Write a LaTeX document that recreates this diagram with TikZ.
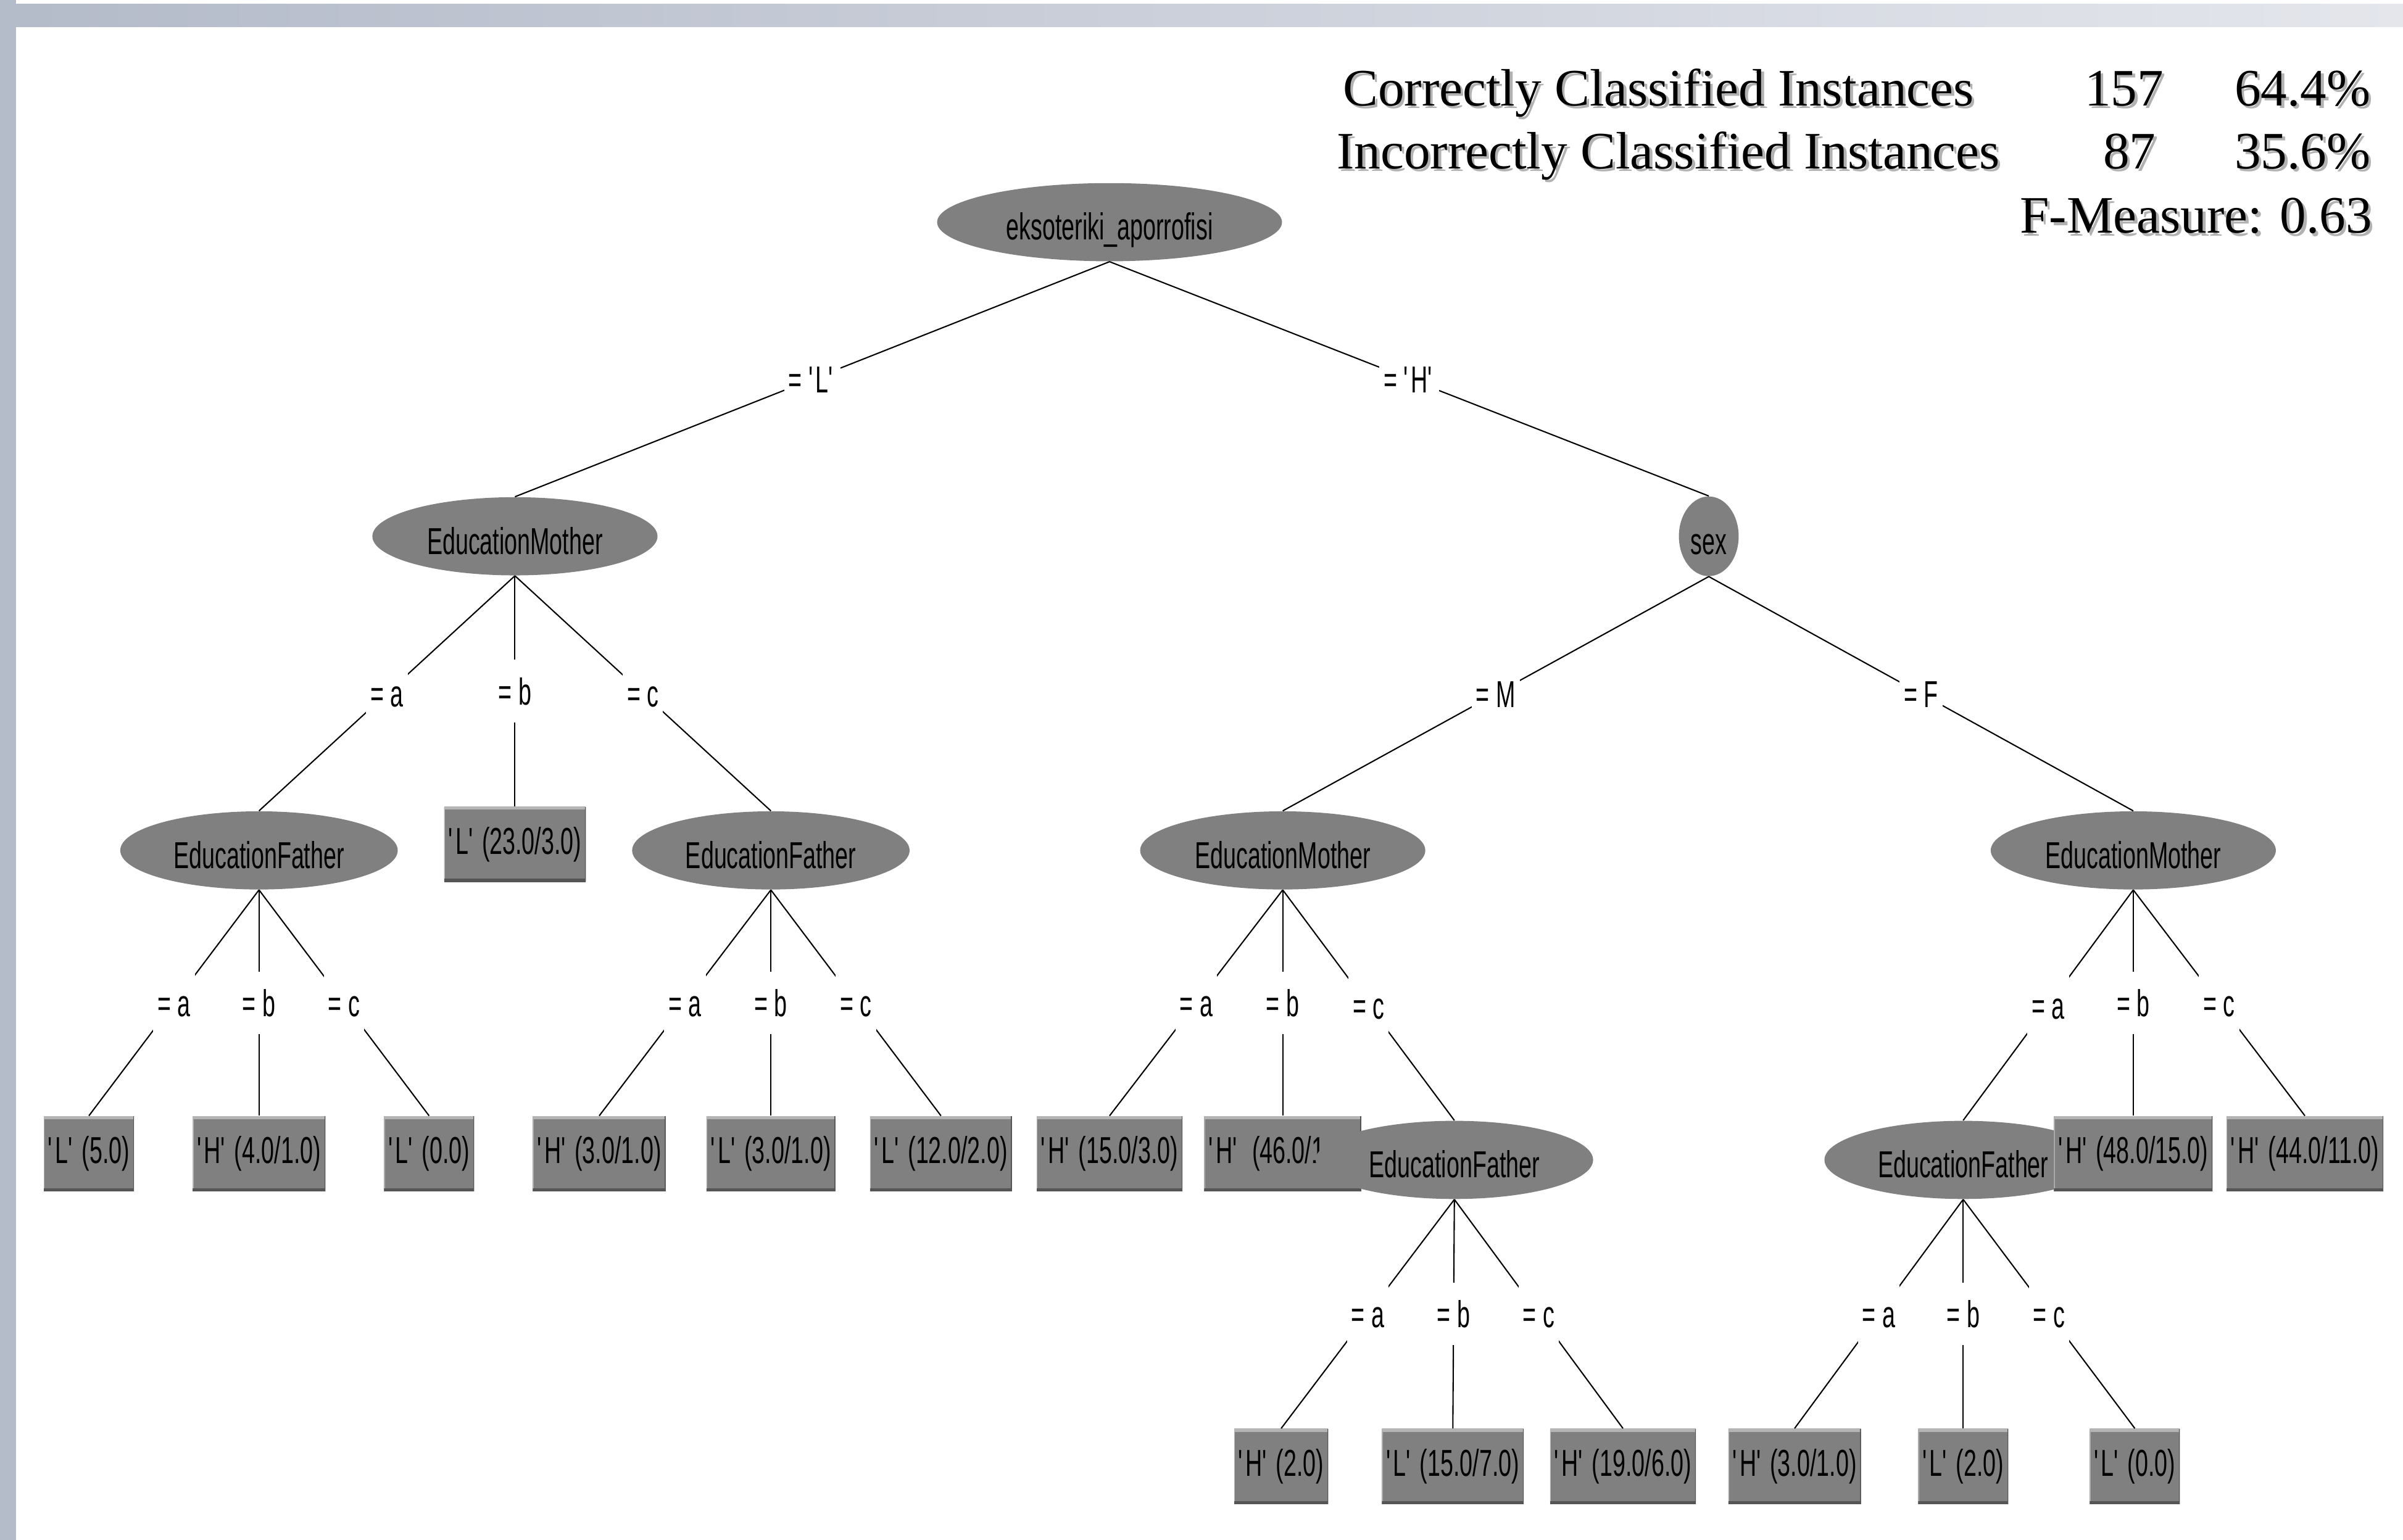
\documentclass[tikz,border=0pt]{standalone}
\usepackage{fontspec}
\setmainfont{Liberation Serif}
\newfontfamily\weka[FakeStretch=0.62]{Liberation Sans}
\usetikzlibrary{shapes.geometric}

\definecolor{wgris}{HTML}{808080}
\definecolor{wclaro}{HTML}{B4B4B4}
\definecolor{woscuro}{HTML}{555555}
\definecolor{barra}{HTML}{B4BBC9}
\definecolor{barrafin}{HTML}{E4E6EC}

\newcommand{\cls}[1]{\textquotesingle#1\textquotesingle}
\newcommand{\sombra}[1]{\makebox[0pt][l]{\hspace{1.3pt}\raisebox{-1.3pt}{\color{black!30}#1}}#1}

\begin{document}
\begin{tikzpicture}[x=0.025cm, y=-0.025cm,
    wfont/.style={font=\weka\fontsize{17.4}{20}\selectfont},
    nodo/.style={wfont, ellipse, fill=wgris, inner sep=0pt, minimum height=1.275cm, text height=16.5pt, text depth=0pt},
    hoja/.style={wfont, rectangle, fill=wgris, inner xsep=2pt, inner ysep=0pt, minimum height=1.225cm,
        path picture={
            \draw[wclaro, line width=2.8pt] (path picture bounding box.north west) -- (path picture bounding box.north east);
            \draw[wclaro, line width=0.8pt] (path picture bounding box.north west) -- (path picture bounding box.south west);
            \draw[woscuro, line width=2.8pt] (path picture bounding box.south west) -- (path picture bounding box.south east);
            \draw[woscuro, line width=0.8pt] (path picture bounding box.north east) -- (path picture bounding box.south east);
        }},
    rama/.style={black, line width=0.6pt},
    etiq/.style={wfont, fill=white, inner xsep=2pt, inner ysep=8.2pt, text height=12.7pt, text depth=0pt},
    resumen/.style={font=\fontsize{24.4}{28}\selectfont, inner sep=0pt}]

    \useasboundingbox (0,0) rectangle (1568,1005);

    % Marco
    \fill[barra] (0,0) rectangle (10.5,1005);
    \shade[left color=barra, right color=barrafin] (10.5,2.8) rectangle (1568,17.6);

    % Resultados
    \node[resumen, anchor=base west] (cc) at (876,69) {\sombra{Correctly Classified Instances}};
    \node[resumen, anchor=base west] (ic) at (872,110) {\sombra{Incorrectly Classified Instances}};
    \node[resumen, anchor=base east] (ccn) at (1412,69) {\sombra{157}};
    \node[resumen, anchor=base east] (icn) at (1407,110) {\sombra{87}};
    \node[resumen, anchor=base east] (ccp) at (1547,69) {\sombra{64.4\%}};
    \node[resumen, anchor=base east] (icp) at (1547,110) {\sombra{35.6\%}};
    \node[resumen, anchor=base east] (fm) at (1548,152) {\sombra{F-Measure: 0.63}};

    % Nodos
    \node[nodo, minimum width=5.625cm] (root) at (724,145) {eksoteriki\_aporrofisi};
    \node[nodo, minimum width=4.65cm] (em1) at (336,350) {EducationMother};
    \node[nodo, minimum width=0.975cm, minimum height=1.3cm] (sex) at (1115,350) {sex};
    \node[nodo, minimum width=4.525cm] (ef1) at (169,555) {EducationFather};
    \node[hoja] (l23) at (336,551) {\cls{L} (23.0/3.0)};
    \node[nodo, minimum width=4.525cm] (ef2) at (503,555) {EducationFather};
    \node[nodo, minimum width=4.65cm] (em2) at (837,555) {EducationMother};
    \node[nodo, minimum width=4.65cm] (em3) at (1392,555) {EducationMother};

    % Hojas (nivel 3)
    \node[hoja] (l5) at (58,753) {\cls{L} (5.0)};
    \node[hoja] (h4) at (169,753) {\cls{H} (4.0/1.0)};
    \node[hoja] (l0a) at (280,753) {\cls{L} (0.0)};
    \node[hoja] (h3a) at (391,753) {\cls{H} (3.0/1.0)};
    \node[hoja] (l3) at (503,753) {\cls{L} (3.0/1.0)};
    \node[hoja] (l12) at (614,753) {\cls{L} (12.0/2.0)};
    \node[hoja] (h15) at (724,753) {\cls{H} (15.0/3.0)};
    \node[hoja, text width=2.42cm, align=left] (h46) at (837,753) {\cls{H} (46.0/1};
    \node[nodo, minimum width=4.525cm] (ef3) at (949,757) {EducationFather};
    \node[nodo, minimum width=4.525cm] (ef4) at (1281,757) {EducationFather};
    \node[hoja] (h48) at (1392,753) {\cls{H} (48.0/15.0)};
    \node[hoja] (h44) at (1504,753) {\cls{H} (44.0/11.0)};

    % Hojas (nivel 4)
    \node[hoja] (h2) at (836,957) {\cls{H} (2.0)};
    \node[hoja] (l15) at (948,957) {\cls{L} (15.0/7.0)};
    \node[hoja] (h19) at (1059,957) {\cls{H} (19.0/6.0)};
    \node[hoja] (h3b) at (1171,957) {\cls{H} (3.0/1.0)};
    \node[hoja] (l2) at (1281,957) {\cls{L} (2.0)};
    \node[hoja] (l0b) at (1393,957) {\cls{L} (0.0)};

    % Ramas
    \draw[rama] (root.south) -- node[etiq]{= \cls{L}} (em1.north);
    \draw[rama] (root.south) -- node[etiq]{= \cls{H}} (sex.north);

    \draw[rama] (em1.south) -- node[etiq]{= a} (ef1.north);
    \draw[rama] (em1.south) -- node[etiq]{= b} (l23.north);
    \draw[rama] (em1.south) -- node[etiq]{= c} (ef2.north);

    \draw[rama] (sex.south) -- node[etiq]{= M} (em2.north);
    \draw[rama] (sex.south) -- node[etiq]{= F} (em3.north);

    \draw[rama] (ef1.south) -- node[etiq]{= a} (l5.north);
    \draw[rama] (ef1.south) -- node[etiq]{= b} (h4.north);
    \draw[rama] (ef1.south) -- node[etiq]{= c} (l0a.north);

    \draw[rama] (ef2.south) -- node[etiq]{= a} (h3a.north);
    \draw[rama] (ef2.south) -- node[etiq]{= b} (l3.north);
    \draw[rama] (ef2.south) -- node[etiq]{= c} (l12.north);

    \draw[rama] (em2.south) -- node[etiq]{= a} (h15.north);
    \draw[rama] (em2.south) -- node[etiq]{= b} (h46.north);
    \draw[rama] (em2.south) -- node[etiq]{= c} (ef3.north);

    \draw[rama] (em3.south) -- node[etiq]{= a} (ef4.north);
    \draw[rama] (em3.south) -- node[etiq]{= b} (h48.north);
    \draw[rama] (em3.south) -- node[etiq]{= c} (h44.north);

    \draw[rama] (ef3.south) -- node[etiq]{= a} (h2.north);
    \draw[rama] (ef3.south) -- node[etiq]{= b} (l15.north);
    \draw[rama] (ef3.south) -- node[etiq]{= c} (h19.north);

    \draw[rama] (ef4.south) -- node[etiq]{= a} (h3b.north);
    \draw[rama] (ef4.south) -- node[etiq]{= b} (l2.north);
    \draw[rama] (ef4.south) -- node[etiq]{= c} (l0b.north);
\end{tikzpicture}
\end{document}
